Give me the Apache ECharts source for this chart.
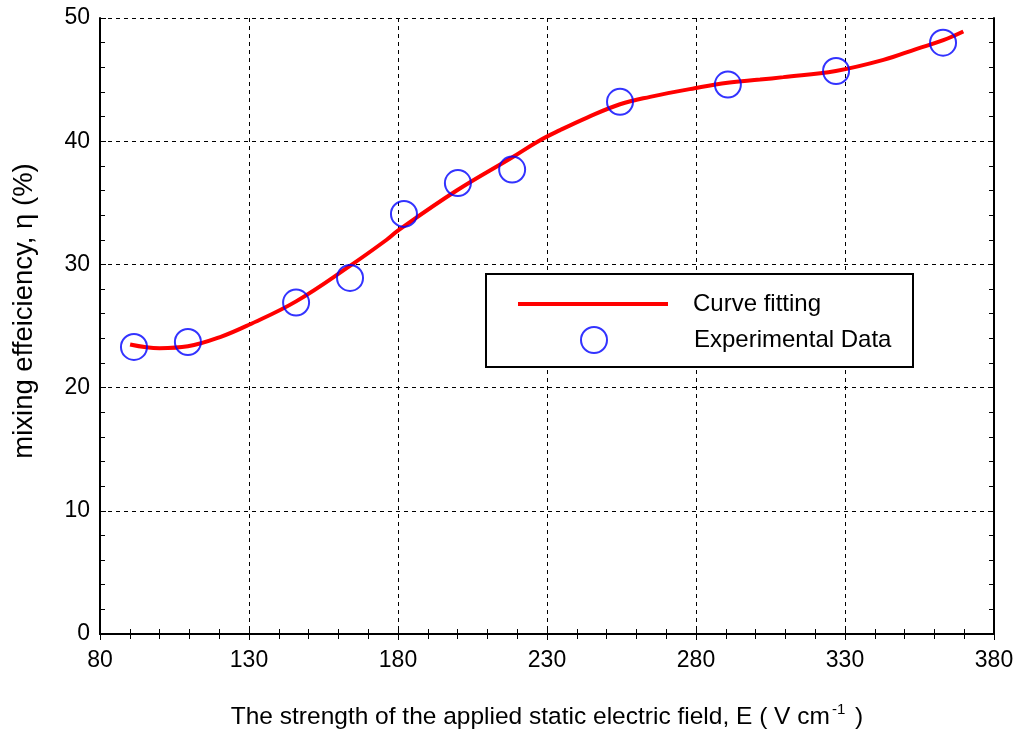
<!DOCTYPE html>
<html><head><meta charset="utf-8">
<script src="https://cdn.jsdelivr.net/npm/echarts@6/dist/echarts.min.js"></script>
<style>html,body{margin:0;padding:0;background:#fff}#c{width:1017px;height:729px}</style>
</head><body><div id="c"></div>
<script>
// Experimental data (E in V/cm, efficiency in %)
const expE = [91.4, 109.5, 145.8, 163.9, 182, 200.1, 218.3, 254.5, 290.7, 327, 362.9];
const expEta = [23.3, 23.7, 26.9, 28.9, 34.1, 36.6, 37.7, 43.2, 44.6, 45.7, 48.0];
// Fitted curve
const fitE = [90.1, 100, 109.5, 120.3, 130, 145.8, 164, 176.2, 180.3, 199.7, 218.4, 227.1, 234.4, 243.3, 254.5, 264.6, 279.5, 290.6, 301.5, 309.3, 326.9, 342.9, 354.1, 363, 369.7];
const fitEta = [23.5, 23.2, 23.35, 24.1, 25.1, 27.0, 29.9, 32.0, 32.8, 36.0, 38.7, 40.0, 40.9, 41.9, 43.0, 43.6, 44.3, 44.75, 45.0, 45.2, 45.7, 46.6, 47.5, 48.2, 48.9];
const xTicks = [80, 130, 180, 230, 280, 330, 380];
const yTicks = [0, 10, 20, 30, 40, 50];

const FONT = '"Liberation Sans", Arial, sans-serif';
const chart = echarts.init(document.getElementById('c'), null, {renderer: 'canvas'});
const mirror = {
  show: true, min: xTicks[0], max: xTicks[xTicks.length - 1], interval: 50,
  axisLine: {show: true, lineStyle: {color: '#000', width: 2}},
  axisTick: {show: true, inside: true, length: 6, lineStyle: {color: '#000', width: 1}},
  minorTick: {show: true, splitNumber: 5, length: 5, lineStyle: {color: '#000', width: 1}},
  axisLabel: {show: false}, splitLine: {show: false}
};
chart.setOption({
  animation: false,
  grid: {left: 100, right: 23, top: 18, bottom: 95, containLabel: false, outerBoundsMode: 'none'},
  xAxis: [{
    type: 'value', min: xTicks[0], max: xTicks[xTicks.length - 1], interval: 50,
    axisLine: {show: true, onZero: false, lineStyle: {color: '#000', width: 2}},
    axisTick: {show: true, inside: true, length: 6, lineStyle: {color: '#000', width: 1}},
    minorTick: {show: true, splitNumber: 5, length: 5, lineStyle: {color: '#000', width: 1}},
    axisLabel: {color: '#000', fontSize: 23, fontFamily: FONT, margin: 15},
    splitLine: {show: true, lineStyle: {color: '#000', width: 1, type: [4, 4]}},
    name: '{n|The strength of the applied static electric field, E ( V cm}{s|-1}{n| )}',
    nameLocation: 'middle', nameGap: 68,
    nameTextStyle: {rich: {
      n: {fontSize: 24.5, fontFamily: FONT, color: '#000'},
      s: {fontSize: 15, fontFamily: FONT, color: '#000', verticalAlign: 'top', padding: [0, 3, 16, 2]}
    }}
  }, Object.assign({}, mirror, {position: 'top'})],
  yAxis: [{
    type: 'value', min: yTicks[0], max: yTicks[yTicks.length - 1], interval: 10,
    axisLine: {show: true, onZero: false, lineStyle: {color: '#000', width: 2}},
    axisTick: {show: true, inside: true, length: 6, lineStyle: {color: '#000', width: 1}},
    minorTick: {show: true, splitNumber: 5, length: 5, lineStyle: {color: '#000', width: 1}},
    axisLabel: {color: '#000', fontSize: 23, fontFamily: FONT, margin: 10},
    splitLine: {show: true, lineStyle: {color: '#000', width: 1, type: [4, 4]}},
    name: 'mixing effeiciency, η (%)', nameLocation: 'middle', nameGap: 62,
    nameTextStyle: {fontSize: 27.5, fontFamily: FONT, color: '#000', padding: [0, 0, 0, 30]}
  }, Object.assign({}, mirror, {position: 'right', min: yTicks[0], max: yTicks[yTicks.length - 1], interval: 10})],
  legend: [{
    left: 513, top: 287, orient: 'vertical', itemWidth: 150, itemHeight: 4, z: 10,
    data: [{name: 'Curve fitting', icon: 'rect'}],
    textStyle: {fontSize: 24, fontFamily: FONT, color: '#000', padding: [0, 0, 0, 20]}
  }, {
    left: 575, top: 321, orient: 'vertical', itemWidth: 26, itemHeight: 26, z: 10,
    data: [{name: 'Experimental Data', icon: 'circle'}],
    textStyle: {fontSize: 24, fontFamily: FONT, color: '#000', padding: [0, 0, 0, 82]}
  }],
  graphic: [{type: 'rect', left: 485, top: 273, shape: {width: 427, height: 93}, style: {fill: '#fff', stroke: '#000', lineWidth: 2}, z: 3}],
  series: [{
    name: 'Curve fitting', type: 'line', data: fitE.map((e, i) => [e, fitEta[i]]),
    smooth: 0.4, showSymbol: false, symbol: 'none',
    lineStyle: {color: '#ff0000', width: 4}, itemStyle: {color: '#ff0000'}, z: 2
  }, {
    name: 'Experimental Data', type: 'scatter', data: expE.map((e, i) => [e, expEta[i]]),
    symbol: 'circle', symbolSize: 26,
    itemStyle: {color: 'rgba(0,0,0,0)', borderColor: '#0000ff', borderWidth: 2}, z: 3
  }]
});
</script></body></html>
